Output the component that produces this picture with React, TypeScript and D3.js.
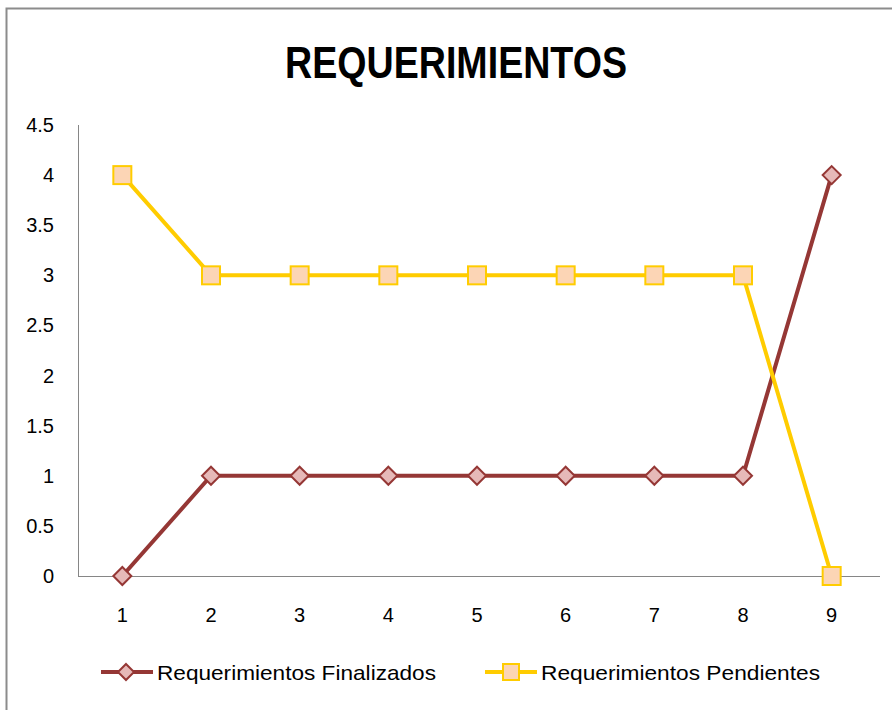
import React from "react";
import * as d3 from "d3";

const categories = ["1", "2", "3", "4", "5", "6", "7", "8", "9"];
const finalizados = [0, 1, 1, 1, 1, 1, 1, 1, 4];
const pendientes = [4, 3, 3, 3, 3, 3, 3, 3, 0];
const yTicks = [0, 0.5, 1, 1.5, 2, 2.5, 3, 3.5, 4, 4.5];
const seriesNames = ["Requerimientos Finalizados", "Requerimientos Pendientes"];

const W = 892, H = 710;
const plot = { left: 78, right: 876, top: 125, bottom: 576 };
const FONT = "'Liberation Sans Narrow', 'Arial Narrow', 'Liberation Sans', sans-serif";

const RED = "#953735", RED_FILL = "#E6B9B8";
const YEL = "#FFCC00", YEL_FILL = "#FCD5B5";

function Diamond({ x, y, r }: { x: number; y: number; r: number }) {
  return <path d={`M${x},${y - r}L${x + r},${y}L${x},${y + r}L${x - r},${y}Z`} fill={RED_FILL} stroke={RED} strokeWidth={2} />;
}
function Square({ x, y, s }: { x: number; y: number; s: number }) {
  return <rect x={x - s / 2} y={y - s / 2} width={s} height={s} fill={YEL_FILL} stroke={YEL} strokeWidth={2} />;
}

export default function App() {
  const x = d3.scaleBand().domain(categories).range([plot.left, plot.right]);
  const y = d3.scaleLinear().domain([0, 4.5]).range([plot.bottom, plot.top]);
  const cx = (c: string) => (x(c) as number) + x.bandwidth() / 2;
  const line = d3.line<number>().x((_, i) => cx(categories[i])).y((d) => y(d));

  return (
    <svg width={W} height={H} style={{ position: "absolute", left: 0, top: 0, background: "#fff" }}>
      <rect x={0} y={0} width={W} height={H} fill="#fff" />
      <rect x={6.5} y={8.5} width={W + 20} height={H + 20} fill="none" stroke="#8c8c8c" strokeWidth={2} />
      <text x={456} y={78} textAnchor="middle" fontFamily={FONT} fontWeight="bold" fontSize={44} textLength={342} lengthAdjust="spacingAndGlyphs" fill="#000">
        REQUERIMIENTOS
      </text>
      {/* axes */}
      <line x1={plot.left + 0.5} x2={plot.left + 0.5} y1={plot.top} y2={plot.bottom} stroke="#868686" strokeWidth={1} />
      <line x1={plot.left} x2={plot.right + 4} y1={plot.bottom + 0.5} y2={plot.bottom + 0.5} stroke="#868686" strokeWidth={1} />
      {yTicks.map((t) => (
        <text key={t} x={54} y={y(t) + 7} textAnchor="end" fontFamily={FONT} fontSize={20} fill="#000">
          {String(t)}
        </text>
      ))}
      {categories.map((c) => (
        <text key={c} x={cx(c)} y={622} textAnchor="middle" fontFamily={FONT} fontSize={20} fill="#000">
          {c}
        </text>
      ))}
      <path d={line(finalizados) || ""} fill="none" stroke={RED} strokeWidth={4} strokeLinejoin="round" />
      <path d={line(pendientes) || ""} fill="none" stroke={YEL} strokeWidth={4} strokeLinejoin="round" />
      {finalizados.map((v, i) => (
        <Diamond key={"f" + i} x={cx(categories[i])} y={y(v)} r={9} />
      ))}
      {pendientes.map((v, i) => (
        <Square key={"p" + i} x={cx(categories[i])} y={y(v)} s={18} />
      ))}
      {/* legend */}
      <line x1={101} x2={153} y1={672} y2={672} stroke={RED} strokeWidth={4} />
      <Diamond x={126} y={672} r={8} />
      <text x={157} y={680} fontFamily={FONT} fontSize={21} textLength={279} lengthAdjust="spacingAndGlyphs" fill="#000">
        {seriesNames[0]}
      </text>
      <line x1={485} x2={537} y1={672} y2={672} stroke={YEL} strokeWidth={4} />
      <Square x={511} y={672} s={16} />
      <text x={541} y={680} fontFamily={FONT} fontSize={21} textLength={279} lengthAdjust="spacingAndGlyphs" fill="#000">
        {seriesNames[1]}
      </text>
    </svg>
  );
}
